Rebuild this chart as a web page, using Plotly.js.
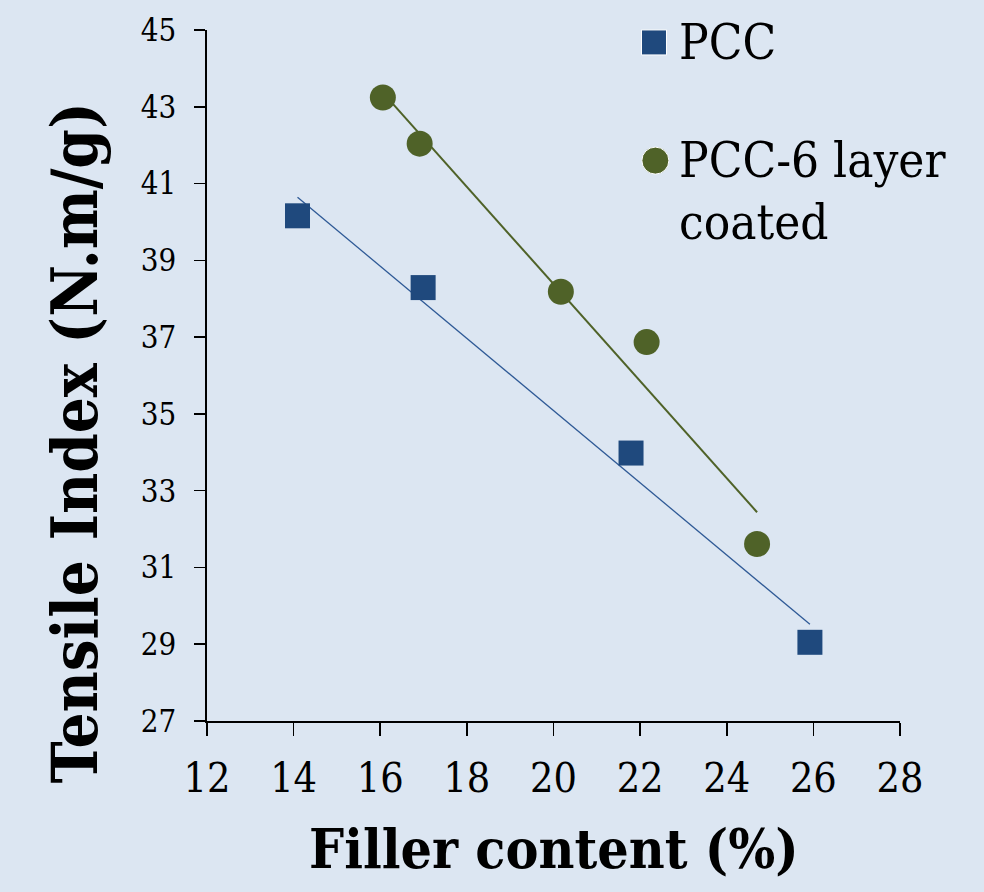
<!DOCTYPE html>
<html>
<head>
<meta charset="utf-8">
<script src="https://cdn.plot.ly/plotly-3.0.1.min.js"></script>
<style>html,body{margin:0;padding:0;background:#dce6f2;}</style>
</head>
<body>
<div id="chart" style="width:984px;height:892px;"></div>
<script>
// ---- data ----
var seriesNames = ["PCC", "PCC-6 layer coated"];
var pccX = [14.09, 16.99, 21.79, 25.92];
var pccY = [40.16, 38.29, 33.98, 29.05];
var coatedX = [16.06, 16.91, 20.17, 22.15, 24.70];
var coatedY = [43.24, 42.04, 38.18, 36.87, 31.61];
var xTicks = [12, 14, 16, 18, 20, 22, 24, 26, 28];
var yTicks = [27, 29, 31, 33, 35, 37, 39, 41, 43, 45];

// least-squares linear trendline over the data's x extent
function trend(xs, ys) {
  var n = xs.length, mx = 0, my = 0;
  for (var i = 0; i < n; i++) { mx += xs[i]; my += ys[i]; }
  mx /= n; my /= n;
  var sxy = 0, sxx = 0;
  for (i = 0; i < n; i++) { sxy += (xs[i] - mx) * (ys[i] - my); sxx += (xs[i] - mx) * (xs[i] - mx); }
  var b = sxy / sxx, a = my - b * mx;
  var x0 = Math.min.apply(null, xs), x1 = Math.max.apply(null, xs);
  return { x: [x0, x1], y: [a + b * x0, a + b * x1] };
}

var blue = "#1f497d", blueLine = "#2f5a96", green = "#4f6228";
var serif = "DejaVu Serif Condensed, DejaVu Serif";
var tPcc = trend(pccX, pccY), tCoat = trend(coatedX, coatedY);

var traces = [
  { x: tPcc.x, y: tPcc.y, mode: "lines", line: { color: blueLine, width: 1.3 }, showlegend: false, hoverinfo: "skip" },
  { x: tCoat.x, y: tCoat.y, mode: "lines", line: { color: green, width: 2 }, showlegend: false, hoverinfo: "skip" },
  { x: pccX, y: pccY, name: seriesNames[0], mode: "markers", marker: { symbol: "square", size: 25, color: blue, opacity: 1 }, showlegend: false },
  { x: coatedX, y: coatedY, name: seriesNames[1], mode: "markers", marker: { symbol: "circle", size: 26, color: green, opacity: 1 }, showlegend: false },
  // legend keys on a unit overlay axis
  { x: [0.645, 0.647], y: [0.982, 0.811], xaxis: "x2", yaxis: "y2", mode: "markers", cliponaxis: false,
    marker: { symbol: ["square", "circle"], size: [25, 27], color: [blue, green], opacity: 1 }, showlegend: false, hoverinfo: "skip" }
];

var legendX = 0.678;
var layout = {
  width: 984, height: 892,
  paper_bgcolor: "#dce6f2", plot_bgcolor: "#dce6f2",
  margin: { l: 207, r: 84, t: 30, b: 171 },
  showlegend: false,
  font: { family: serif, color: "#000" },
  xaxis: {
    range: [12, 28], tickvals: xTicks, ticktext: xTicks.map(String),
    showgrid: false, zeroline: false, showline: true, linecolor: "#000", linewidth: 1.6,
    ticks: "outside", ticklen: 13, tickwidth: 1.6, tickcolor: "#000",
    tickfont: { family: serif, size: 41, color: "#000" }, ticklabelstandoff: 7
  },
  yaxis: {
    range: [27, 45], tickvals: yTicks, ticktext: yTicks.map(String),
    showgrid: false, zeroline: false, showline: true, linecolor: "#000", linewidth: 1.6,
    ticks: "outside", ticklen: 11, tickwidth: 1.6, tickcolor: "#000",
    tickfont: { family: serif, size: 31, color: "#000" }, ticklabelstandoff: 12
  },
  xaxis2: { overlaying: "x", range: [0, 1], visible: false, fixedrange: true },
  yaxis2: { overlaying: "y", range: [0, 1], visible: false, fixedrange: true },
  annotations: [
    { text: "<b>Filler content (%)</b>", xref: "paper", yref: "paper", x: 0.5, y: -0.185,
      xanchor: "center", yanchor: "middle", showarrow: false, font: { family: serif, size: 55, color: "#000" } },
    { text: "<b>Tensile Index (N.m/g)</b>", xref: "paper", yref: "paper", x: -0.191, y: 0.4025, textangle: -90,
      xanchor: "center", yanchor: "middle", showarrow: false, font: { family: serif, size: 63, color: "#000" } },
    { text: seriesNames[0], xref: "paper", yref: "paper", x: legendX, y: 0.9823,
      xanchor: "left", yanchor: "middle", showarrow: false, font: { family: serif, size: 49, color: "#000" } },
    { text: "PCC-6 layer", xref: "paper", yref: "paper", x: legendX, y: (721 - 160.2) / 691,
      xanchor: "left", yanchor: "middle", showarrow: false, font: { family: serif, size: 49, color: "#000" } },
    { text: "coated", xref: "paper", yref: "paper", x: legendX, y: (721 - 222.2) / 691,
      xanchor: "left", yanchor: "middle", showarrow: false, font: { family: serif, size: 49, color: "#000" } }
  ]
};

Plotly.newPlot("chart", traces, layout, { displayModeBar: false, staticPlot: true });
</script>
</body>
</html>
